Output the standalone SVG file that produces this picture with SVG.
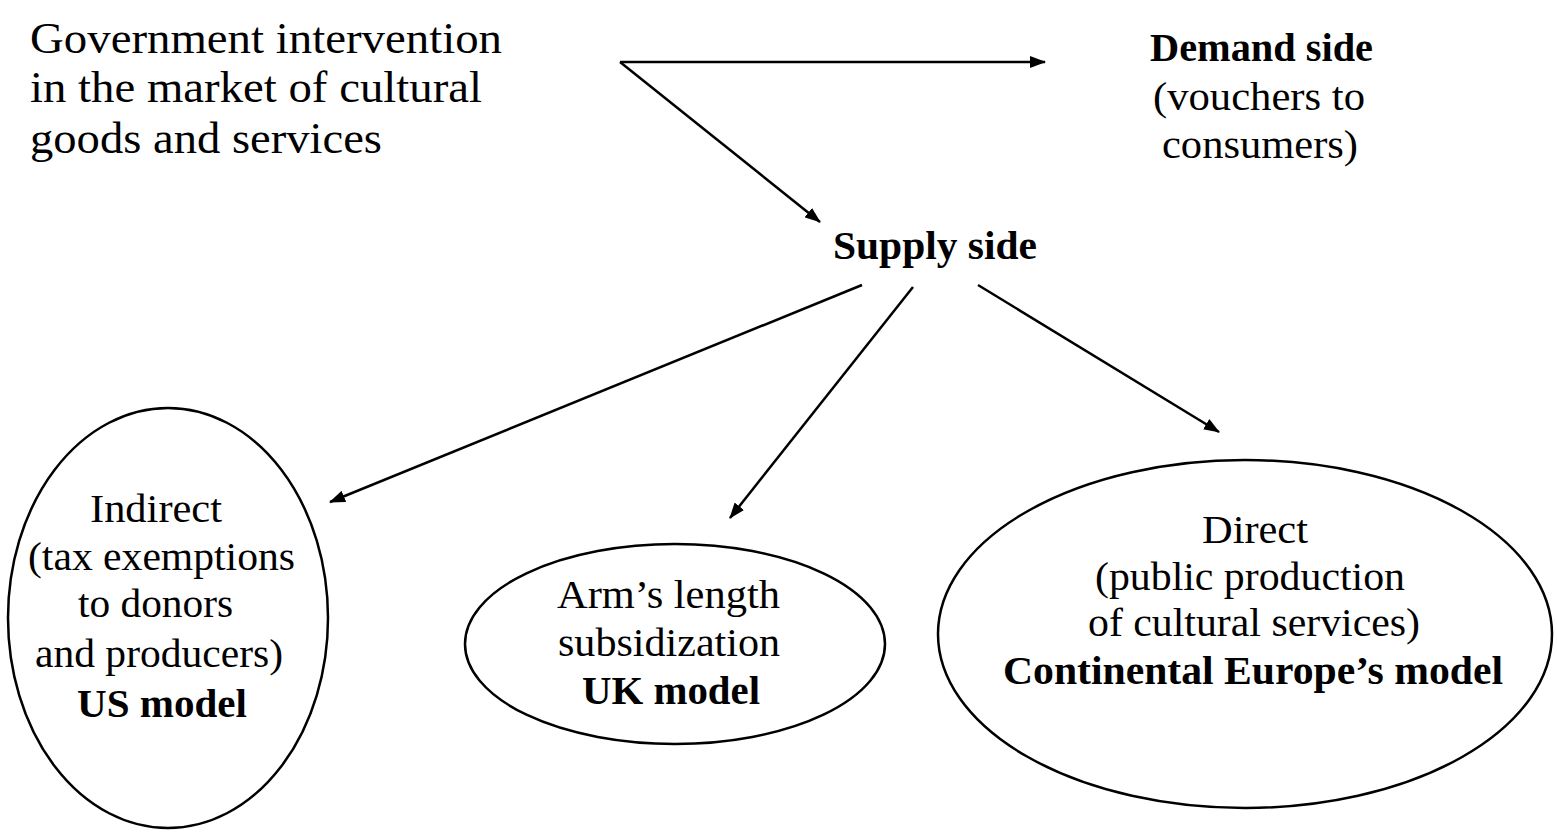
<svg xmlns="http://www.w3.org/2000/svg" width="1557" height="834" viewBox="0 0 1557 834">
<style>
text{font-family:"Liberation Serif","Times New Roman",serif;fill:#000;}
.t{font-size:45px;}
.r{font-size:40px;}
.b{font-size:40px;font-weight:bold;}
.e{fill:none;stroke:#000;stroke-width:2.5;}
.c{stroke:#000;stroke-width:2.5;fill:none;marker-end:url(#ah);}
</style>
<defs>
<marker id="ah" viewBox="0 0 16 12" refX="15" refY="6" markerWidth="16" markerHeight="12" markerUnits="userSpaceOnUse" orient="auto">
<path d="M0,0 L16,6 L0,12 z" fill="#000"/>
</marker>
</defs>
<rect width="1557" height="834" fill="#fff"/>
<g id="connectors">
<line class="c" x1="620" y1="62" x2="1045" y2="62"/>
<line class="c" x1="620" y1="62" x2="820" y2="222"/>
<line class="c" x1="862" y1="285" x2="330" y2="502"/>
<line class="c" x1="913" y1="287" x2="730" y2="518"/>
<line class="c" x1="978" y1="285" x2="1219" y2="432"/>
</g>
<g id="title">
<text class="t" x="30" y="53" textLength="472" lengthAdjust="spacingAndGlyphs">Government intervention</text>
<text class="t" x="30" y="102" textLength="452" lengthAdjust="spacingAndGlyphs">in the market of cultural</text>
<text class="t" x="30" y="153" textLength="352" lengthAdjust="spacingAndGlyphs">goods and services</text>
</g>
<g id="demand">
<text class="b" x="1150" y="61" textLength="223" lengthAdjust="spacingAndGlyphs">Demand side</text>
<text class="r" x="1153" y="110" textLength="212" lengthAdjust="spacingAndGlyphs">(vouchers to</text>
<text class="r" x="1162" y="158" textLength="196" lengthAdjust="spacingAndGlyphs">consumers)</text>
</g>
<g id="supply">
<text class="b" x="833" y="259" textLength="204" lengthAdjust="spacingAndGlyphs">Supply side</text>
</g>
<g id="indirect">
<ellipse class="e" cx="168" cy="618" rx="160" ry="210"/>
<text class="r" x="90" y="522" textLength="132" lengthAdjust="spacingAndGlyphs">Indirect</text>
<text class="r" x="28" y="570" textLength="267" lengthAdjust="spacingAndGlyphs">(tax exemptions</text>
<text class="r" x="78" y="617" textLength="155" lengthAdjust="spacingAndGlyphs">to donors</text>
<text class="r" x="35" y="667" textLength="248" lengthAdjust="spacingAndGlyphs">and producers)</text>
<text class="b" x="77" y="717" textLength="170" lengthAdjust="spacingAndGlyphs">US model</text>
</g>
<g id="armslength">
<ellipse class="e" cx="675" cy="644" rx="210" ry="100"/>
<text class="r" x="557" y="608" textLength="223" lengthAdjust="spacingAndGlyphs">Arm’s length</text>
<text class="r" x="558" y="656" textLength="222" lengthAdjust="spacingAndGlyphs">subsidization</text>
<text class="b" x="582" y="704" textLength="178" lengthAdjust="spacingAndGlyphs">UK model</text>
</g>
<g id="direct">
<ellipse class="e" cx="1245" cy="634" rx="307" ry="174"/>
<text class="r" x="1202" y="543" textLength="106" lengthAdjust="spacingAndGlyphs">Direct</text>
<text class="r" x="1095" y="590" textLength="310" lengthAdjust="spacingAndGlyphs">(public production</text>
<text class="r" x="1088" y="636" textLength="332" lengthAdjust="spacingAndGlyphs">of cultural services)</text>
<text class="b" x="1003" y="684" textLength="500" lengthAdjust="spacingAndGlyphs">Continental Europe’s model</text>
</g>
</svg>
